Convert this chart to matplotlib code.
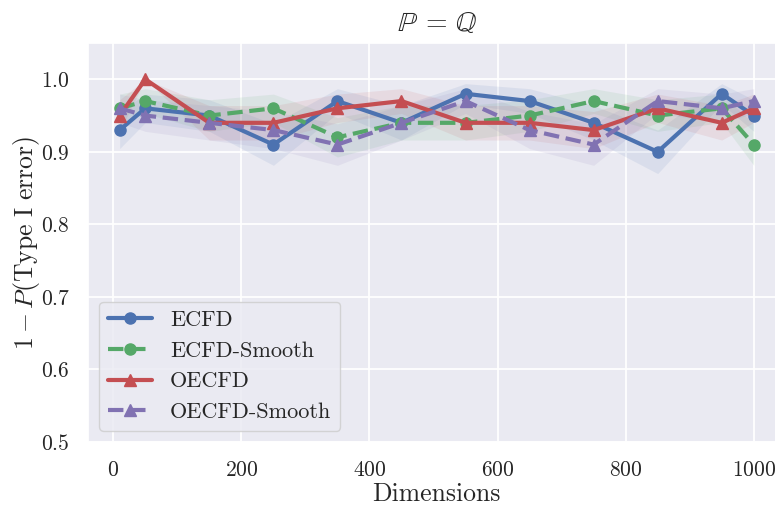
import numpy as np
import matplotlib
matplotlib.use("Agg")
import matplotlib.pyplot as plt
import seaborn as sns

dims = [10, 50, 150, 250, 350, 450, 550, 650, 750, 850, 950, 1000]

ecfd = [0.93, 0.96, 0.95, 0.91, 0.97, 0.94, 0.98, 0.97, 0.94, 0.90, 0.98, 0.95]
ecfd_smooth = [0.96, 0.97, 0.95, 0.96, 0.92, 0.94, 0.94, 0.95, 0.97, 0.95, 0.96, 0.91]
oecfd = [0.95, 1.00, 0.94, 0.94, 0.96, 0.97, 0.94, 0.94, 0.93, 0.96, 0.94, 0.96]
oecfd_smooth = [0.96, 0.95, 0.94, 0.93, 0.91, 0.94, 0.97, 0.93, 0.91, 0.97, 0.96, 0.97]

n_trials = 100

sns.set_theme(style="darkgrid")
plt.rcParams["font.family"] = "serif"
plt.rcParams["font.serif"] = ["cmr10", "DejaVu Serif"]
plt.rcParams["mathtext.fontset"] = "cm"
plt.rcParams["axes.formatter.use_mathtext"] = True
plt.rcParams["axes.unicode_minus"] = False
plt.rcParams["grid.linewidth"] = 1.3

fig = plt.figure(figsize=(7.75, 5.05), dpi=100)
ax = fig.add_axes([0.1135, 0.1248, 0.900, 0.790])

series = [
    ("ECFD", ecfd, "#4C72B0", "o", "-"),
    ("ECFD-Smooth", ecfd_smooth, "#55A868", "o", "--"),
    ("OECFD", oecfd, "#C44E52", "^", "-"),
    ("OECFD-Smooth", oecfd_smooth, "#8172B2", "^", "--"),
]

for name, vals, col, mk, ls in series:
    p = np.array(vals)
    se = np.sqrt(p * (1 - p) / n_trials)
    ax.fill_between(dims, p - se, p + se, color=col, alpha=0.1, linewidth=0)
    ax.plot(dims, p, color=col, marker=mk, linestyle=ls, linewidth=3,
            markersize=8, label=name)

ax.set_xlim(-39.5, 1049.5)
ax.set_ylim(0.5, 1.05)
ax.set_yticks([0.5, 0.6, 0.7, 0.8, 0.9, 1.0])
ax.set_xticks([0, 200, 400, 600, 800, 1000])
ax.tick_params(labelsize=15.5, pad=7)
ax.set_xlabel("Dimensions", fontsize=18.5, labelpad=2)
ax.set_ylabel(r"$1 - P(\mathrm{Type\ I\ error})$", fontsize=18.5, labelpad=-1)
ax.set_title(r"$\mathbb{P}\,=\,\mathbb{Q}$", fontsize=20, pad=9)
ax.legend(loc="lower left", fontsize=16)

fig.savefig("out.png", dpi=100)
